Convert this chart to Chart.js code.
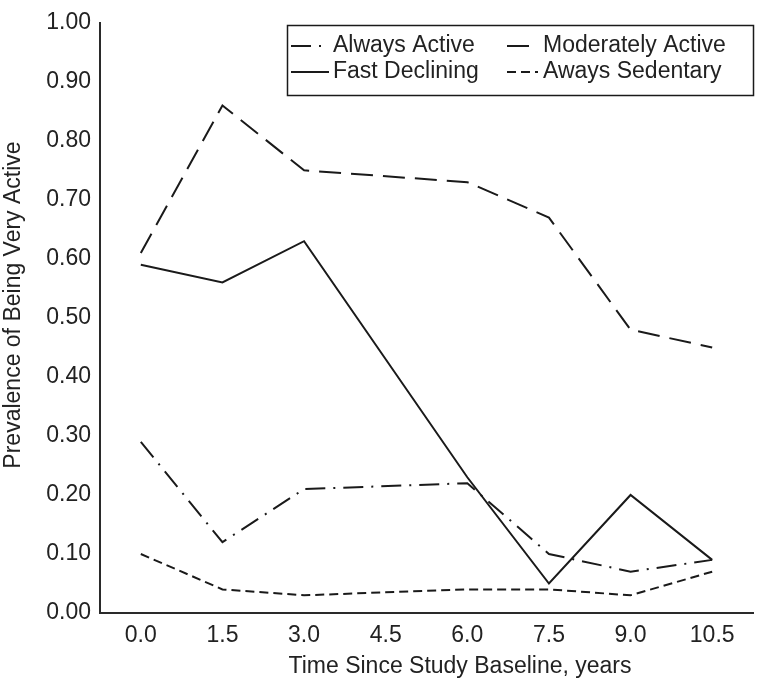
<!DOCTYPE html>
<html>
<head>
<meta charset="utf-8">
<script src="https://cdn.jsdelivr.net/npm/chart.js@4"></script>
<style>
  html, body { margin: 0; padding: 0; background: #fff; }
  #wrap { width: 760px; height: 692px; }
</style>
</head>
<body>
<div id="wrap"><canvas id="my_chart" width="760" height="692"></canvas></div>
<script>
// years since baseline (no measure at 4.5, lines pass straight over it)
var years = ["0.0", "1.5", "3.0", "4.5", "6.0", "7.5", "9.0", "10.5"];
var alwaysActive = [0.29, 0.12, 0.21, null, 0.22, 0.10, 0.07, 0.09];
var moderatelyActive = [0.61, 0.86, 0.75, null, 0.73, 0.67, 0.48, 0.45];
var fastDeclining = [0.59, 0.56, 0.63, null, 0.23, 0.05, 0.20, 0.09];
var awaysSedentary = [0.10, 0.04, 0.03, null, 0.04, 0.04, 0.03, 0.07];
var yTicks = [0, 0.1, 0.2, 0.3, 0.4, 0.5, 0.6, 0.7, 0.8, 0.9, 1.0];
var xTitle = "Time Since Study Baseline, years";
var yTitle = "Prevalence of Being Very Active";

(function () {
    "use strict";
    var ink = "#1a1a1a";
    var font = "'Liberation Sans', Arial, sans-serif";

    Chart.defaults.font.family = font;
    Chart.defaults.color = "#222";

    function line(label, data, dash) {
        return {
            label: label,
            data: data,
            borderColor: ink,
            borderWidth: 2,
            borderDash: dash,
            pointRadius: 0,
            tension: 0,
            spanGaps: true,
            fill: false,
        };
    }

    // axis titles sit a bit off the plot centre in the original, so draw them here
    var axisTitles = {
        id: "axisTitles",
        afterDraw: function (chart) {
            var ctx = chart.ctx;
            ctx.save();
            ctx.font = "23px " + font;
            ctx.fillStyle = "#222";
            ctx.textAlign = "center";
            ctx.textBaseline = "middle";
            ctx.fillText(xTitle, 460, 667);
            ctx.translate(14, 305);
            ctx.rotate(-Math.PI / 2);
            ctx.fillText(yTitle, 0, 0);
            ctx.restore();
        },
    };

    // legend box drawn inside the plot, top right, 2 x 2
    var boxLegend = {
        id: "boxLegend",
        afterDraw: function (chart) {
            var ctx = chart.ctx;
            ctx.save();
            ctx.strokeStyle = ink;
            ctx.lineWidth = 1.5;
            ctx.strokeRect(287.5, 25.5, 466, 70);
            ctx.font = "23px " + font;
            ctx.fillStyle = "#222";
            ctx.textBaseline = "middle";
            var cols = [291, 507];
            var rows = [46, 72];
            var len = [38, 31];
            chart.data.datasets.forEach(function (ds, i) {
                var c = i % 2, r = Math.floor(i / 2);
                var x = cols[c], y = rows[r];
                ctx.beginPath();
                ctx.setLineDash(ds.borderDash || []);
                ctx.lineWidth = 2;
                ctx.moveTo(x, y);
                ctx.lineTo(x + len[c], y);
                ctx.stroke();
                ctx.setLineDash([]);
                ctx.fillText(ds.label, c === 0 ? 333 : 543, y);
            });
            ctx.restore();
        },
    };

    var ctx = document.getElementById("my_chart").getContext("2d");

    new Chart(ctx, {
        type: "line",
        data: {
            labels: years,
            datasets: [
                line("Always Active", alwaysActive, [20, 8, 2, 8]),
                line("Moderately Active", moderatelyActive, [22, 10]),
                line("Fast Declining", fastDeclining, []),
                line("Aways Sedentary", awaysSedentary, [9, 5]),
            ],
        },
        options: {
            responsive: false,
            animation: false,
            layout: { padding: { top: 16, right: 7, left: 0, bottom: 0 } },
            plugins: {
                legend: { display: false },
                tooltip: { enabled: false },
            },
            scales: {
                x: {
                    offset: true,
                    grid: { display: false, drawTicks: false },
                    border: { display: true, color: "#2a2a2a", width: 2 },
                    ticks: { font: { size: 23 }, padding: 9, maxRotation: 0 },
                    afterFit: function (s) { s.height = 79; },
                },
                y: {
                    min: 0,
                    max: 1,
                    grid: { display: false, drawTicks: false },
                    border: { display: true, color: "#2a2a2a", width: 2 },
                    afterBuildTicks: function (s) {
                        s.ticks = yTicks.map(function (v) { return { value: v }; });
                    },
                    ticks: {
                        font: { size: 23 },
                        padding: 9,
                        callback: function (v) { return Number(v).toFixed(2); },
                    },
                    afterFit: function (s) { s.width = 100; },
                },
            },
        },
        plugins: [boxLegend, axisTitles],
    });
})();
</script>
</body>
</html>
